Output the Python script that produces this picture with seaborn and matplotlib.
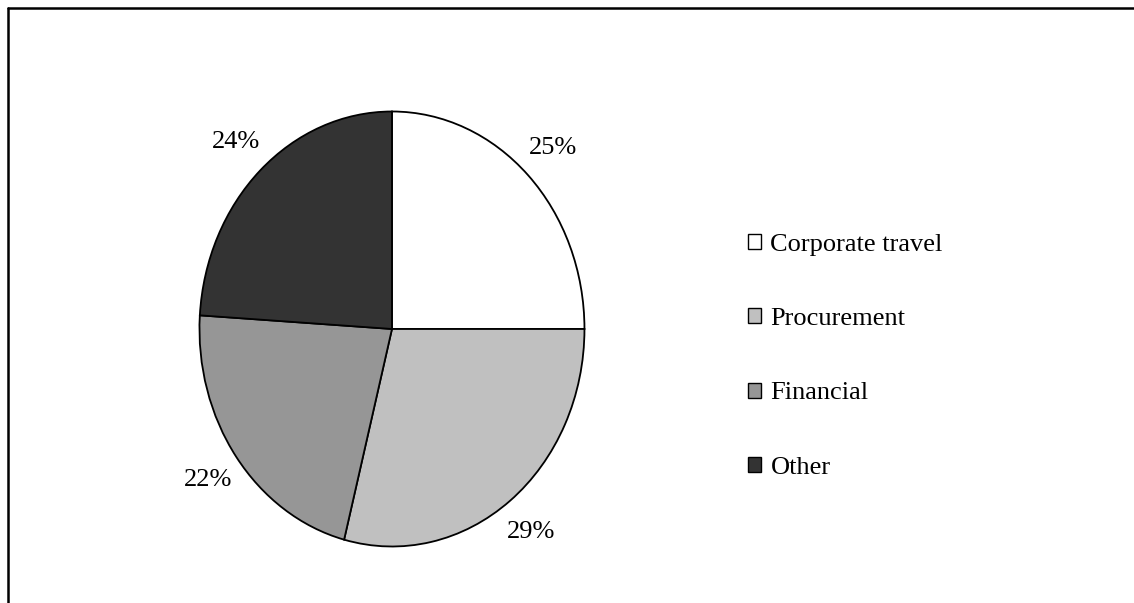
import matplotlib

matplotlib.use("Agg")
import matplotlib.pyplot as plt
import seaborn as sns
from matplotlib.lines import Line2D
from matplotlib.patches import Patch

# Data
categories = ["Corporate travel", "Procurement", "Financial", "Other"]
shares = [25, 29, 22, 24]
colors = ["#ffffff", "#c0c0c0", "#969696", "#333333"]

sns.set_style("white")
plt.rcParams["font.family"] = ["Liberation Serif", "DejaVu Serif"]
plt.rcParams["text.color"] = "black"

fig = plt.figure(figsize=(11.34, 6.03), dpi=100)
fig.patch.set_facecolor("white")

# pie is slightly taller than wide in the reference
ax = fig.add_axes([0.1759, 0.0937, 0.3395, 0.7214])
wedges, texts, autotexts = ax.pie(
    shares,
    colors=colors,
    startangle=90,
    counterclock=False,
    autopct="%.0f%%",
    pctdistance=1.18,
    wedgeprops={"edgecolor": "black", "linewidth": 1.3},
    textprops={"fontsize": 19, "color": "black"},
)
ax.set_aspect("auto")
ax.set_xlim(-1, 1)
ax.set_ylim(-1, 1)
ax.axis("off")

handles = [
    Patch(facecolor=c, edgecolor="black", linewidth=1.0) for c in colors
]
fig.legend(
    handles,
    categories,
    loc="center left",
    bbox_to_anchor=(0.6596, 0.409),
    frameon=False,
    fontsize=19,
    labelcolor="black",
    labelspacing=1.98,
    handlelength=0.5,
    handleheight=0.5,
    handletextpad=0.35,
    borderpad=0,
    borderaxespad=0,
)

# outer frame (cut off at right and bottom in the reference)
fig.add_artist(Line2D([7.5 / 1134, 1.01], [1 - 7.5 / 603, 1 - 7.5 / 603],
                      transform=fig.transFigure, color="black", linewidth=1.8))
fig.add_artist(Line2D([7.5 / 1134, 7.5 / 1134], [1 - 7.5 / 603, -0.01],
                      transform=fig.transFigure, color="black", linewidth=1.8))

fig.savefig("out.png", dpi=100, facecolor="white")
